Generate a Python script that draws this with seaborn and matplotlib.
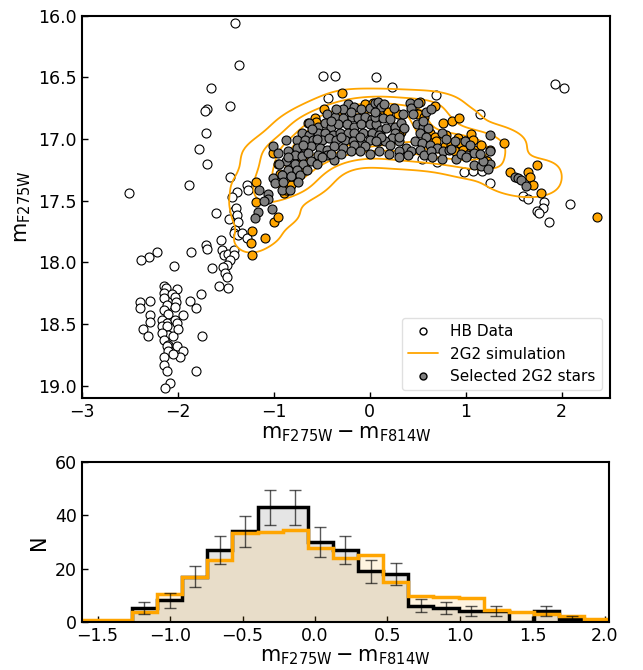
import numpy as np
import pandas as pd
import matplotlib
matplotlib.use("Agg")
import matplotlib.pyplot as plt
import seaborn as sns
from matplotlib.lines import Line2D

# HB data (open circles): colour, magnitude
hb_x = [-1.40, -1.36, -0.49, -0.36, 0.07, -1.65, -0.44, -1.70, -1.72, -1.46, -1.71, -1.78, -1.70,
        -2.51, -1.88, -1.46, -1.38, -1.28, -1.44, -1.27, -1.60, -1.42, -1.39, -1.47, -1.38, -1.37,
        -1.40, -1.42, -1.37, -1.33, -1.28, -1.55, -1.71, -1.70, -1.86, -2.22, -2.30, -2.38, -1.54,
        -1.52, -1.48, -1.42, -1.42, -1.46, -1.49, -1.53, -1.64, -2.04, -1.51, -1.49, -1.48, -1.57,
        -2.14, -2.12, -2.01, -2.15, -2.06, -2.14, -2.03, -2.02, -2.11, -2.03, -1.76, -1.87, -1.81,
        -2.39, -2.29, -2.40, -2.15, -2.10, -2.17, -2.11, -2.03, -2.01, -1.95, -2.29, -2.29, -2.36,
        -2.31, -2.17, -2.11, -2.10, -2.17, -2.15, -2.10, -2.05, -2.00, -1.75, -2.11, -2.01, -1.95,
        -1.98, -2.10, -2.05, -2.15, -2.15, -2.11, -1.81, -2.08, -2.13,
        0.23, 0.69, 1.15, 1.93, 2.02, 0.54, 0.70, 0.98, 1.08, 1.17, 1.25, 1.60, 1.65, 1.82, 1.81,
        1.74, 1.76, 1.87, 2.09]
hb_y = [16.06, 16.40, 16.49, 16.49, 16.50, 16.59, 16.67, 16.76, 16.77, 16.73, 16.95, 17.08, 17.20,
        17.44, 17.37, 17.31, 17.43, 17.37, 17.47, 17.41, 17.60, 17.58, 17.56, 17.65, 17.62, 17.67,
        17.74, 17.76, 17.78, 17.76, 17.80, 17.82, 17.86, 17.89, 17.92, 17.92, 17.96, 17.98, 17.90,
        17.94, 17.93, 17.90, 17.94, 17.98, 18.02, 18.04, 18.05, 18.03, 18.09, 18.12, 18.21, 18.19,
        18.19, 18.21, 18.22, 18.25, 18.26, 18.29, 18.28, 18.32, 18.35, 18.36, 18.26, 18.31, 18.37,
        18.32, 18.31, 18.37, 18.39, 18.42, 18.47, 18.49, 18.47, 18.49, 18.43, 18.43, 18.48, 18.54,
        18.60, 18.52, 18.52, 18.59, 18.57, 18.63, 18.67, 18.60, 18.54, 18.60, 18.68, 18.68, 18.72,
        18.77, 18.72, 18.74, 18.77, 18.83, 18.88, 18.88, 18.98, 19.02,
        16.58, 16.64, 16.80, 16.55, 16.59, 17.16, 17.19, 17.27, 17.26, 17.26, 17.36, 17.46, 17.49,
        17.51, 17.56, 17.58, 17.60, 17.67, 17.53]

# 2G2 simulated stars (orange, visible ones)
sim_x = [-0.29, -0.48, -0.57, -0.56, -0.64, -1.01, -0.94, -0.80, -0.83, -0.89, -0.85, -1.19, -1.19,
         -1.00, -0.96, -1.23, -1.09, -1.24, -1.23, -0.73, -0.70, -0.66, -0.96, -0.83, -0.68, -0.78,
         -0.82, -0.87, -0.05, 0.03, 0.52, 0.68, 0.47, 0.50, 0.57, 0.76, 0.86, 0.93, 0.63, 0.68, 0.64,
         0.69, 0.80, 0.92, 0.99, 1.06, 1.08, 0.78, 0.85, 0.94, 0.89, 0.97, 1.06, 1.09, 1.16, 1.20,
         1.22, 1.25, 1.40, 0.10, 0.19, 0.29, 0.33, 0.31, 1.46, 1.65, 1.67, 1.70, 1.74, 1.79, 2.37]
sim_y = [16.63, 16.76, 16.83, 16.86, 16.87, 17.11, 17.28, 17.29, 17.36, 17.44, 17.41, 17.35, 17.51,
         17.67, 17.63, 17.75, 17.80, 17.84, 17.94, 17.20, 17.24, 17.14, 17.20, 17.25, 17.25, 17.33,
         17.37, 17.41, 16.72, 16.71, 16.70, 16.73, 16.79, 16.80, 16.82, 16.87, 16.85, 16.83, 16.95,
         16.98, 17.03, 17.02, 16.97, 16.99, 17.02, 16.96, 17.01, 17.06, 17.05, 17.03, 17.10, 17.09,
         17.10, 17.09, 17.05, 17.17, 17.18, 17.09, 17.03, 16.79, 16.78, 16.80, 16.94, 16.97, 17.27,
         17.27, 17.31, 17.37, 17.21, 17.44, 17.63]

# simulated stars hidden below the selected ones
sim_hid_x = [-0.80, -0.70, -0.60, -0.50, -0.40, -0.30, -0.20, -0.10, 0.00, 0.10, 0.20, -0.90, -1.00,
             -0.60, -0.40, 0.00, 0.40, -0.20]
sim_hid_y = [17.05, 16.95, 17.00, 16.90, 16.95, 16.90, 16.85, 16.90, 16.85, 16.95, 16.90, 17.15, 17.25,
             17.10, 17.05, 17.00, 16.90, 17.00]

# selected 2G2 stars (grey)
sel_x = [-0.23, -0.28, -0.16, -0.09, 0.00, 0.05, 0.09, 0.12,
         -0.45, -0.36, -0.28, -0.19, -0.12, -0.05, 0.02, 0.09,
         -0.63, -0.54, -0.47, -0.40, -0.33, -0.24, -0.16, -0.09, 0.00, 0.07, 0.12,
         -0.71, -0.63, -0.54, -0.47, -0.38, -0.31, -0.23, -0.16, -0.07, 0.02, 0.10,
         -0.87, -0.76, -0.68, -0.59, -0.50, -0.43, -0.35, -0.26, -0.17, -0.09, 0.00, 0.09,
         -1.01, -0.85, -0.76, -0.68, -0.61, -0.52, -0.45, -0.37, -0.28, -0.16, -0.05,
         -0.96, -0.78, -0.71, -0.64, -0.54, -0.45, -0.37,
         -0.87, -0.78, -0.70, -0.61, -0.85, -0.76, -0.92, -0.82, -0.73,
         -1.01, -0.92, -0.83, -0.99, -1.15, -1.06, -1.06, -1.16, -1.02, -1.20,
         0.05, 0.14, 0.21, 0.17, 0.26, 0.33, 0.36, 0.42, 0.43, 0.50, 0.59, 0.64, 0.49, 0.55, 0.61,
         0.52, 0.59, 0.47, 0.54, 0.63, 0.70, 0.26, 0.23, 0.16, 0.31, 0.38, 0.43, 0.52, 0.57, 0.64,
         0.76, 0.75, 0.83, 0.89, 0.99, 0.90, 1.01, 1.09, 1.25, 1.25, 1.09, 1.16, 1.25, 0.12, 0.07,
         1.23, 1.18, 1.51, 1.55, 1.58, 1.63, 0.21, 0.31,
         -0.95, -0.90, -0.75, -0.65, -0.55, -0.50, -0.40, -0.30, -0.20, -0.10, 0.00, 0.10, 0.20,
         0.30, -0.70, -0.55, -0.30, -0.10, 0.05, 0.25, 0.35, 0.55, 0.75, 0.85, 0.95, 1.05, 1.15,
         0.40, 0.65, -0.60, -0.40, -0.20, 0.30, -1.10, -0.85, -0.35, 0.15, 0.45, 0.80, 1.00]
sel_y = [16.72, 16.76, 16.74, 16.76, 16.75, 16.71, 16.70, 16.74,
         16.80, 16.82, 16.83, 16.82, 16.83, 16.82, 16.84, 16.82,
         16.87, 16.90, 16.87, 16.90, 16.88, 16.88, 16.90, 16.88, 16.88, 16.88, 16.93,
         16.95, 16.97, 16.95, 16.95, 16.97, 16.95, 16.95, 16.95, 16.95, 16.95, 16.97,
         17.01, 17.01, 17.01, 17.01, 17.01, 16.99, 17.01, 17.01, 17.02, 17.03, 17.01, 17.02,
         17.06, 17.10, 17.07, 17.07, 17.06, 17.07, 17.09, 17.06, 17.07, 17.05, 17.06,
         17.11, 17.13, 17.14, 17.11, 17.13, 17.13, 17.17,
         17.18, 17.20, 17.20, 17.18, 17.25, 17.25, 17.29, 17.30, 17.29,
         17.32, 17.41, 17.41, 17.36, 17.41, 17.45, 17.49, 17.59, 17.57, 17.64,
         16.82, 16.83, 16.84, 16.91, 16.90, 16.87, 16.91, 16.71, 16.75, 16.71, 16.78, 16.76, 16.88,
         16.90, 16.91, 16.95, 16.98, 17.02, 17.03, 17.05, 17.07, 16.95, 16.99, 17.02, 17.02, 17.07,
         17.10, 17.09, 17.13, 17.10, 17.10, 17.16, 17.09, 17.02, 17.02, 17.16, 17.13, 17.11, 16.97,
         17.10, 17.21, 17.22, 17.20, 16.98, 17.02, 17.24, 17.18, 17.31, 17.32, 17.33, 17.38, 17.05,
         17.10,
         17.20, 17.35, 17.35, 17.25, 17.20, 17.15, 17.12, 17.12, 17.10, 17.10, 17.12, 17.10, 17.12,
         17.15, 17.05, 17.00, 16.98, 16.98, 16.78, 16.75, 16.80, 16.85, 16.95, 17.08, 17.12, 17.05,
         17.12, 17.13, 17.15, 16.92, 16.85, 16.78, 16.98, 17.50, 17.15, 16.76, 16.72, 16.80, 17.00,
         17.15]

# histogram of colours
bin_edges = np.linspace(-1.61, 2.03, 22)
obs_counts = [0, 0, 5, 8, 17, 27, 34, 43, 43, 30, 27, 19, 18, 6, 5, 4, 4, 0, 4, 1, 0]
sim_counts = [0.6, 0.8, 3.8, 10.6, 17, 23.4, 33.5, 33.8, 34.4, 27.8, 24, 25, 15, 9.6, 9.4, 9,
              4.4, 3.5, 2.8, 2.1, 0.9]

sns.set_style("white")
plt.rcParams["font.family"] = ["DejaVu Sans"]
plt.rcParams["text.color"] = "black"
plt.rcParams["axes.labelcolor"] = "black"

fig = plt.figure(figsize=(6.43, 6.70), dpi=100)
ax1 = fig.add_axes([0.1275, 0.406, 0.8205, 0.5706])
ax2 = fig.add_axes([0.127, 0.0721, 0.8205, 0.2379])

# CMD panel
ax1.scatter(hb_x, hb_y, s=42, facecolor="white", edgecolor="black", linewidth=0.8, zorder=1)
kde_x = sim_x + sim_hid_x + sel_x
kde_y = sim_y + sim_hid_y + sel_y
sns.kdeplot(x=kde_x, y=kde_y, levels=[0.04, 0.2, 0.4, 0.6, 0.8], color="orange",
            linewidths=1.3, bw_adjust=0.75, ax=ax1, zorder=2)
sns.scatterplot(x=sim_x, y=sim_y, s=42, color="orange", edgecolor="black",
                linewidth=0.8, ax=ax1, zorder=3)
sns.scatterplot(x=sel_x, y=sel_y, s=42, color="gray", edgecolor="black",
                linewidth=0.8, ax=ax1, zorder=4)

ax1.set_xlim(-3, 2.5)
ax1.set_ylim(19.1, 16.0)
ax1.set_yticks(np.arange(16.0, 19.01, 0.5))
ax1.set_yticklabels([f"{v:.1f}" for v in np.arange(16.0, 19.01, 0.5)])
ax1.set_xticks([-3, -2, -1, 0, 1, 2])
ax1.set_xlabel(r"$\mathrm{m_{F275W} - m_{F814W}}$", fontsize=15, labelpad=2)
ax1.set_ylabel(r"$\mathrm{m_{F275W}}$", fontsize=15, labelpad=4)

handles = [
    Line2D([], [], marker="o", ls="none", markerfacecolor="white", markeredgecolor="black",
           markersize=5),
    Line2D([], [], color="orange", lw=1.3),
    Line2D([], [], marker="o", ls="none", markerfacecolor="gray", markeredgecolor="black",
           markersize=5),
]
ax1.legend(handles, ["HB Data", "2G2 simulation", "Selected 2G2 stars"], loc="lower right",
           fontsize=11, frameon=True, framealpha=0.8, edgecolor="0.85", fancybox=True,
           borderpad=0.4)

# histogram panel
centers = 0.5 * (bin_edges[:-1] + bin_edges[1:])
ax2.stairs(obs_counts, bin_edges, fill=True, color="black", alpha=0.1, lw=0)
ax2.stairs(sim_counts, bin_edges, fill=True, color="orange", alpha=0.12, lw=0)
ax2.stairs(obs_counts, bin_edges, color="black", lw=2.5)
ax2.stairs(sim_counts, bin_edges, color="orange", lw=2.5)
ax2.errorbar(centers, obs_counts, yerr=np.sqrt(obs_counts), fmt="none", ecolor="black",
             alpha=0.65, elinewidth=1, capsize=4, capthick=1, zorder=5)

ax2.set_xlim(-1.61, 2.03)
ax2.set_ylim(0, 60)
ax2.set_yticks([0, 20, 40, 60])
ax2.set_xticks(np.arange(-1.5, 2.01, 0.5))
ax2.set_xlabel(r"$\mathrm{m_{F275W} - m_{F814W}}$", fontsize=15, labelpad=2)
ax2.set_ylabel("N", fontsize=15, labelpad=4)

for ax in (ax1, ax2):
    ax.tick_params(direction="in", length=4, width=1, labelsize=12.5, colors="black",
                   bottom=True, left=True, top=False, right=False)
    for sp in ax.spines.values():
        sp.set_color("black")
        sp.set_linewidth(1.5)

fig.savefig("out.png", dpi=100)
